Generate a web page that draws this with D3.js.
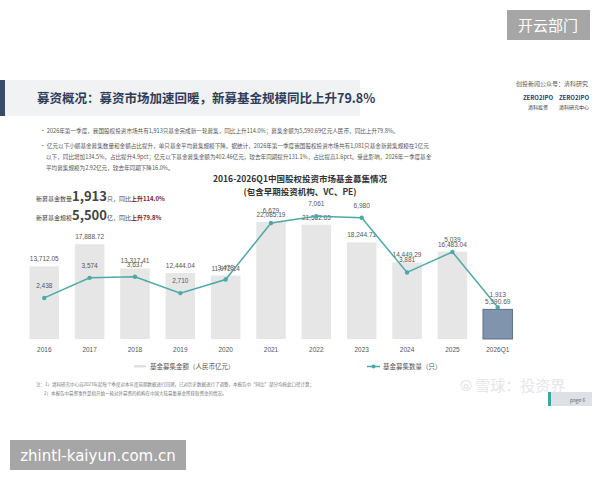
<!DOCTYPE html>
<html><head><meta charset="utf-8">
<script src="https://cdn.jsdelivr.net/npm/d3@7"></script>
<style>body{margin:0;background:#fff;font-family:"Noto Sans CJK SC","Noto Sans",sans-serif}</style>
</head><body><svg width="600" height="480"></svg>
<script>
const years = ['2016','2017','2018','2019','2020','2021','2022','2023','2024','2025','2026Q1'];
const amounts = [13712.05,17888.72,13317.41,12444.04,11972.14,22085.19,21582.65,18244.71,14449.29,16483.04,5590.69];
const counts = [2438,3574,3637,2710,3478,6679,7061,6980,3881,5039,1913];
const amountLabels = ['13,712.05','17,888.72','13,317.41','12,444.04','11,972.14','22,085.19','21,582.65','18,244.71','14,449.29','16,483.04','5,590.69'];
const countLabels = ['2,438','3,574','3,637','2,710','3,478','6,679','7,061','6,980','3,881','5,039','1,913'];

const svg = d3.select('svg');
const font = '"Noto Sans CJK SC",sans-serif';

// watermark boxes
svg.append('rect').attr('x',507).attr('y',10).attr('width',83).attr('height',30).attr('fill','#a6a6a6');
svg.append('text').attr('x',548).attr('y',31).attr('text-anchor','middle').attr('fill','#fff').attr('font-size',15).attr('font-family',font).text('开云部门');
svg.append('rect').attr('x',10).attr('y',440).attr('width',176).attr('height',30).attr('fill','#a6a6a6');
svg.append('text').attr('x',98).attr('y',461).attr('text-anchor','middle').attr('fill','#fff').attr('font-size',15).attr('font-family','DejaVu Sans').text('zhintl-kaiyun.com.cn');

// header
svg.append('rect').attr('x',0).attr('y',80).attr('width',360).attr('height',36).attr('fill','#f1f2f4');
svg.append('rect').attr('x',0).attr('y',80).attr('width',5).attr('height',36).attr('fill','#3b4a66');
svg.append('text').attr('x',37).attr('y',103).attr('font-size',12.5).attr('font-weight','bold').attr('fill','#2d3c5a').attr('font-family',font).text('募资概况：募资市场加速回暖，新募基金规模同比上升79.8%');
svg.append('text').attr('x',588).attr('y',86).attr('text-anchor','end').attr('font-size',6).attr('fill','#555').attr('font-family',font).text('创投新闻公众号：清科研究');
svg.append('text').attr('x',538).attr('y',100).attr('text-anchor','middle').attr('font-size',6).attr('fill','#1f3d7a').attr('font-weight','bold').attr('font-family',font).text('ZERO2IPO');
svg.append('text').attr('x',574).attr('y',100).attr('text-anchor','middle').attr('font-size',6).attr('fill','#1f3d7a').attr('font-weight','bold').attr('font-family',font).text('ZERO2IPO');
svg.append('text').attr('x',538).attr('y',109).attr('text-anchor','middle').attr('font-size',5).attr('fill','#333').attr('font-family',font).text('清科投资');
svg.append('text').attr('x',574).attr('y',109).attr('text-anchor','middle').attr('font-size',5).attr('fill','#333').attr('font-family',font).text('清科研究中心');

const para = [
  [40,133,'• 2026年第一季度，我国股权投资市场共有1,913只基金完成新一轮募集，同比上升114.0%；募集金额为5,590.69亿元人民币，同比上升79.8%。'],
  [40,148,'• 亿元以下小额基金募集数量和金额占比提升，单只基金平均募集规模下降。据统计，2026年第一季度我国股权投资市场共有1,081只基金新募集规模在1亿元'],
  [46,159,'以下，同比增加134.5%，占比提升4.9pct；亿元以下基金募集金额为402.46亿元，较去年同期提升131.1%，占比提高1.6pct。受此影响，2026年一季度基金'],
  [46,170,'平均募集规模为2.92亿元，较去年同期下降16.0%。']
];
para.forEach(p => svg.append('text').attr('x',p[0]).attr('y',p[1]).attr('font-size',5.6).attr('fill','#555').attr('font-family',font).text(p[2]));

svg.append('text').attr('x',300).attr('y',182).attr('text-anchor','middle').attr('font-size',8.5).attr('font-weight','bold').attr('fill','#333').attr('font-family',font).text('2016-2026Q1中国股权投资市场基金募集情况');
svg.append('text').attr('x',300).attr('y',195).attr('text-anchor','middle').attr('font-size',8.5).attr('font-weight','bold').attr('fill','#333').attr('font-family',font).text('(包含早期投资机构、VC、PE)');

const t1 = svg.append('text').attr('x',36).attr('y',201).attr('font-family',font).attr('fill','#444');
t1.append('tspan').attr('font-size',6).text('新募基金数量');
t1.append('tspan').attr('font-size',13).attr('font-weight','bold').text('1,913');
t1.append('tspan').attr('font-size',6).text('只，同比');
t1.append('tspan').attr('font-size',6).attr('font-weight','bold').attr('fill','#7a2030').text('上升114.0%');
const t2 = svg.append('text').attr('x',36).attr('y',220).attr('font-family',font).attr('fill','#444');
t2.append('tspan').attr('font-size',6).text('新募基金规模');
t2.append('tspan').attr('font-size',13).attr('font-weight','bold').text('5,500');
t2.append('tspan').attr('font-size',6).text('亿，同比');
t2.append('tspan').attr('font-size',6).attr('font-weight','bold').attr('fill','#7a2030').text('上升79.8%');

const x = d3.scaleBand().domain(years).range([25,517]).paddingInner(0.35).paddingOuter(0.1);
const yA = d3.scaleLinear().domain([0,22085.19]).range([339,222]);
const yC = d3.scaleLinear().domain([0,6679]).range([341,223]);

svg.append('g').selectAll('rect').data(years).join('rect')
  .attr('x',d=>x(d)).attr('width',x.bandwidth())
  .attr('y',(d,i)=>yA(amounts[i])).attr('height',(d,i)=>339-yA(amounts[i]))
  .attr('fill',(d,i)=>i===10?'#8094ad':'#e6e6e6')
  .attr('stroke',(d,i)=>i===10?'#5d6f88':'none');

svg.append('g').selectAll('text').data(years).join('text')
  .attr('x',d=>x(d)+x.bandwidth()/2).attr('y',(d,i)=>yA(amounts[i])-5)
  .attr('text-anchor','middle').attr('font-size',6.5).attr('fill','#555').attr('font-family','Liberation Sans')
  .text((d,i)=>amountLabels[i]);

const line = d3.line().x((d,i)=>x(years[i])+x.bandwidth()/2).y(d=>yC(d));
svg.append('path').datum(counts).attr('d',line).attr('fill','none').attr('stroke','#4da9a8').attr('stroke-width',1.5);
svg.append('g').selectAll('circle').data(counts).join('circle')
  .attr('cx',(d,i)=>x(years[i])+x.bandwidth()/2).attr('cy',d=>yC(d)).attr('r',2.2).attr('fill','#4da9a8');
svg.append('g').selectAll('text').data(counts).join('text')
  .attr('x',(d,i)=>x(years[i])+x.bandwidth()/2).attr('y',d=>yC(d)-10)
  .attr('text-anchor','middle').attr('font-size',6.5).attr('fill','#555').attr('font-family','Liberation Sans')
  .text((d,i)=>countLabels[i]);

const ax = svg.append('g').attr('transform','translate(0,339)').call(d3.axisBottom(x).tickSize(0).tickPadding(8));
ax.select('.domain').remove();
ax.selectAll('text').attr('font-size',6.5).attr('fill','#555').attr('font-family','Liberation Sans');

// legend
svg.append('rect').attr('x',134).attr('y',365).attr('width',12).attr('height',2.5).attr('fill','#e0e0e0');
svg.append('text').attr('x',150).attr('y',369).attr('font-size',6.5).attr('fill','#555').attr('font-family',font).text('基金募集金额（人民币亿元）');
svg.append('line').attr('x1',367).attr('x2',380).attr('y1',366.5).attr('y2',366.5).attr('stroke','#4da9a8').attr('stroke-width',1.5);
svg.append('circle').attr('cx',373.5).attr('cy',366.5).attr('r',2).attr('fill','#4da9a8');
svg.append('text').attr('x',383).attr('y',369).attr('font-size',6.5).attr('fill','#555').attr('font-family',font).text('基金募集数量（只）');

svg.append('text').attr('x',36).attr('y',386).attr('font-size',4.5).attr('fill','#777').attr('font-family',font).text('注：1）清科研究中心自2023年起每个季度对本年度前期数据进行回溯，已对历史数据进行了调整，本报告中“同比”部分均按此口径计算；');
svg.append('text').attr('x',44).attr('y',395).attr('font-size',4.5).attr('fill','#777').attr('font-family',font).text('2）本报告中募资事件是指开始一轮对外募资的机构在中国大陆募集基金所获取资金的情况。');
svg.append('text').attr('x',460).attr('y',391).attr('font-size',15).attr('fill','#e4e6ea').attr('font-family',font).text('⦾ 雪球：投资界');
svg.append('rect').attr('x',548).attr('y',392).attr('width',44).attr('height',14).attr('fill','#dde0e6');
svg.append('rect').attr('x',548).attr('y',392).attr('width',3).attr('height',14).attr('fill','#3aa9a0');
svg.append('text').attr('x',570).attr('y',402).attr('font-size',5).attr('fill','#666').attr('font-family',font).text('page 6');
</script></body></html>
